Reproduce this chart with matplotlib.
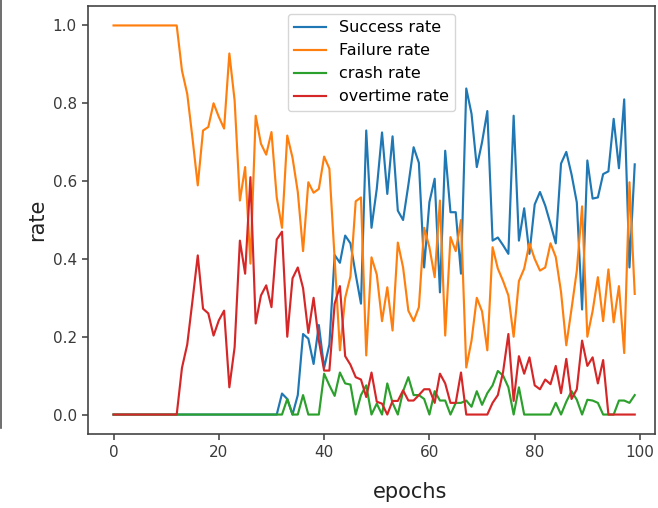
import matplotlib
matplotlib.use("Agg")
import matplotlib.pyplot as plt
from matplotlib.lines import Line2D

epochs = list(range(100))

success_rate = [0.0] * 32 + [
    0.054, 0.04, 0.0, 0.05, 0.207, 0.195, 0.13, 0.23,          # 32-39
    0.12, 0.18, 0.41, 0.39, 0.46, 0.44, 0.36, 0.285, 0.73, 0.48,  # 40-49
    0.58, 0.725, 0.567, 0.715, 0.524, 0.50, 0.59, 0.687, 0.647, 0.378,  # 50-59
    0.546, 0.606, 0.314, 0.678, 0.52, 0.52, 0.362, 0.838, 0.773, 0.636,  # 60-69
    0.70, 0.78, 0.447, 0.455, 0.435, 0.413, 0.768, 0.447, 0.53, 0.413,  # 70-79
    0.54, 0.572, 0.537, 0.49, 0.44, 0.645, 0.675, 0.617, 0.545, 0.27,  # 80-89
    0.653, 0.555, 0.558, 0.618, 0.625, 0.76, 0.633, 0.81, 0.378, 0.643,  # 90-99
]

failure_rate = [1.0] * 13 + [
    0.884, 0.824, 0.71, 0.589, 0.73, 0.739, 0.80,                    # 13-19
    0.765, 0.735, 0.928, 0.807, 0.55, 0.636, 0.388, 0.768, 0.696, 0.668,  # 20-29
    0.726, 0.558, 0.48, 0.717, 0.66, 0.572, 0.42, 0.597, 0.57, 0.58,  # 30-39
    0.663, 0.632, 0.40, 0.165, 0.30, 0.355, 0.548, 0.558, 0.152, 0.404,  # 40-49
    0.36, 0.24, 0.327, 0.216, 0.442, 0.378, 0.267, 0.24, 0.276, 0.48,  # 50-59
    0.43, 0.353, 0.55, 0.203, 0.456, 0.42, 0.50, 0.121, 0.19, 0.30,  # 60-69
    0.265, 0.165, 0.43, 0.375, 0.343, 0.306, 0.20, 0.343, 0.375, 0.44,  # 70-79
    0.40, 0.37, 0.378, 0.44, 0.405, 0.315, 0.178, 0.272, 0.37, 0.535,  # 80-89
    0.20, 0.266, 0.353, 0.24, 0.373, 0.237, 0.33, 0.158, 0.597, 0.31,  # 90-99
]

crash_rate = [0.0] * 33 + [
    0.04, 0.0, 0.0, 0.05, 0.0, 0.0, 0.0,                          # 33-39
    0.105, 0.075, 0.048, 0.108, 0.08, 0.077, 0.0, 0.05, 0.075, 0.0,  # 40-49
    0.028, 0.0, 0.08, 0.03, 0.0, 0.06, 0.096, 0.05, 0.05, 0.04,   # 50-59
    0.0, 0.06, 0.036, 0.036, 0.0, 0.03, 0.03, 0.036, 0.02, 0.06,  # 60-69
    0.025, 0.055, 0.075, 0.112, 0.10, 0.07, 0.0, 0.07, 0.0, 0.0,  # 70-79
    0.0, 0.0, 0.0, 0.0, 0.03, 0.0, 0.033, 0.06, 0.038, 0.0,       # 80-89
    0.038, 0.036, 0.03, 0.0, 0.0, 0.0, 0.036, 0.036, 0.03, 0.05,  # 90-99
]

overtime_rate = [0.0] * 13 + [
    0.12, 0.18, 0.293, 0.409, 0.272, 0.26, 0.203,                   # 13-19
    0.242, 0.267, 0.07, 0.173, 0.447, 0.362, 0.61, 0.234, 0.306, 0.332,  # 20-29
    0.276, 0.45, 0.47, 0.20, 0.35, 0.378, 0.325, 0.21, 0.30, 0.19,  # 30-39
    0.113, 0.113, 0.285, 0.33, 0.15, 0.128, 0.096, 0.09, 0.045, 0.108,  # 40-49
    0.033, 0.028, 0.0, 0.035, 0.035, 0.062, 0.036, 0.036, 0.05, 0.065,  # 50-59
    0.065, 0.03, 0.105, 0.08, 0.03, 0.03, 0.108, 0.0, 0.0, 0.0,   # 60-69
    0.0, 0.0, 0.03, 0.05, 0.11, 0.207, 0.035, 0.15, 0.105, 0.147,  # 70-79
    0.075, 0.065, 0.09, 0.078, 0.125, 0.055, 0.143, 0.04, 0.065, 0.19,  # 80-89
    0.125, 0.147, 0.08, 0.14, 0.0, 0.0, 0.0, 0.0, 0.0, 0.0,        # 90-99
]

series_labels = ["Success rate", "Failure rate", "crash rate", "overtime rate"]
x_ticks = [0, 20, 40, 60, 80, 100]
y_ticks = [0.0, 0.2, 0.4, 0.6, 0.8, 1.0]

W, H = 658, 508
fig = plt.figure(figsize=(W / 100, H / 100), dpi=100)
left, right, top, bottom = 88, 655, 6, 434
ax = fig.add_axes([left / W, (H - bottom) / H, (right - left) / W, (bottom - top) / H])

colors = ["#1f77b4", "#ff7f0e", "#2ca02c", "#d62728"]
for ys, lab, c in zip([success_rate, failure_rate, crash_rate, overtime_rate], series_labels, colors):
    ax.plot(epochs, ys, color=c, lw=1.55, label=lab)

ax.set_xlim(-4.85, 102.85)
ax.set_ylim(-0.05, 1.05)
ax.set_xticks(x_ticks)
ax.set_yticks(y_ticks)
ax.set_yticklabels([f"{v:.1f}" for v in y_ticks])
ax.tick_params(labelsize=11, colors="#3a3a3a", length=4.5, width=1.1)
for sp in ax.spines.values():
    sp.set_color("#444444")
    sp.set_linewidth(1.2)

ax.set_ylabel("rate", fontsize=15, color="#222222")
ax.yaxis.set_label_coords((47 - left) / (right - left), 0.5)
ax.set_xlabel("epochs", fontsize=15, color="#222222")
ax.xaxis.set_label_coords((410 - left) / (right - left), (bottom - 482) / (bottom - top))

ax.legend(loc="upper center", fontsize=11.5, framealpha=0.8)

# thin dark border at the left edge of the screenshot
fig.add_artist(Line2D([0.8 / W, 0.8 / W], [1.0, (H - 428) / H], transform=fig.transFigure,
                      color="#555555", lw=1.2))

fig.savefig("out.png", dpi=100)
